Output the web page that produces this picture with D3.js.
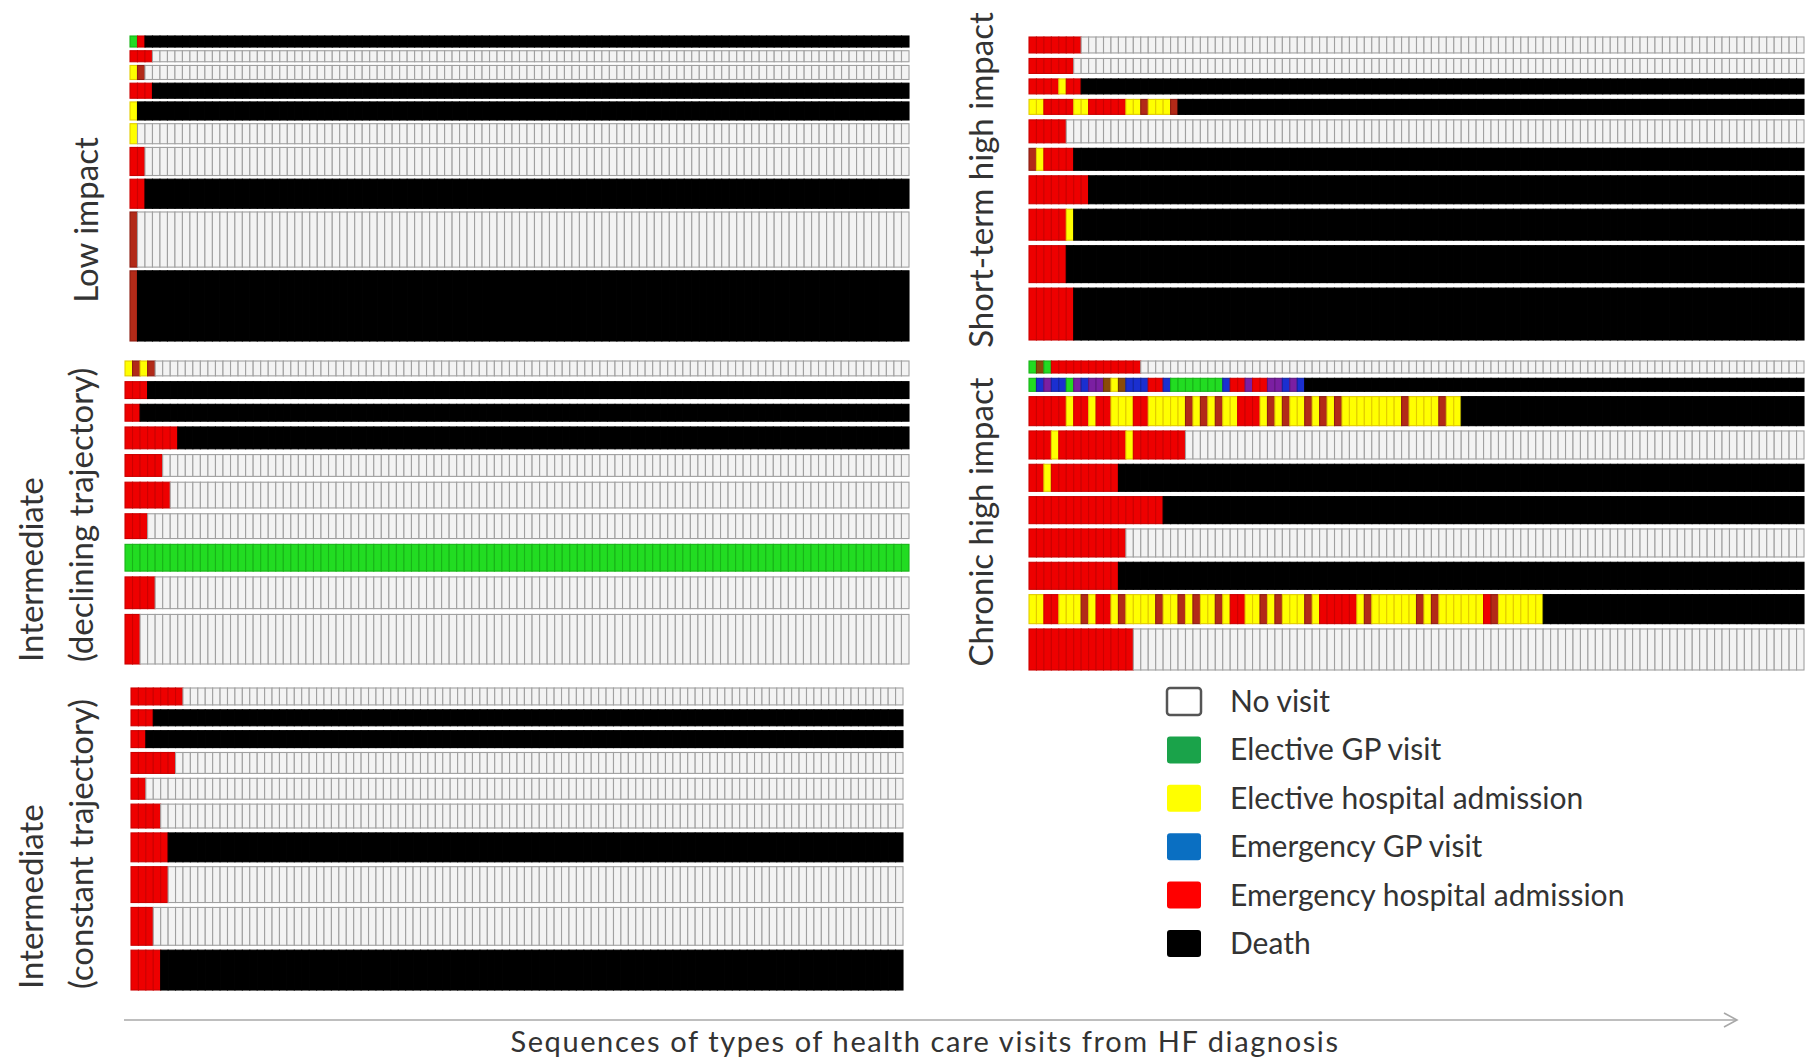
<!DOCTYPE html>
<html>
<head>
<meta charset="utf-8">
<script src="https://cdn.jsdelivr.net/npm/d3@7"></script>
<style>
  body { margin: 0; background: #fff; }
  svg { display: block; }
</style>
</head>
<body>
<svg id="chart" width="1807" height="1061"></svg>
<script>
// Number of time periods in every sequence
const nPeriods = 104;

// State codes: N no visit, G elective GP, E elective hospital, P emergency GP,
// H emergency hospital, D death, R / U / B combined-visit states
const stateFill   = { N: "#f3f3f3", G: "#22dc22", E: "#ffff00", P: "#1a2fd0", H: "#ee0000", D: "#000000", R: "#b22a18", U: "#7b1fa2", B: "#8a4b08" };
const stateStroke = { N: "#a0a0a0", G: "#18b418", E: "#e2cc00", P: "#14249f", H: "#cc0000", D: "#000000", R: "#8e1d13", U: "#5e167d", B: "#6c3a06" };

// Legend
const legendLabels = ["No visit", "Elective GP visit", "Elective hospital admission", "Emergency GP visit", "Emergency hospital admission", "Death"];
const legendColors = ["#ffffff", "#1aa34a", "#ffff00", "#0a6fc2", "#ff0000", "#000000"];

// Sequences (run-length: state + number of periods) and row frequencies per cluster
const lowImpactSeq = ["G1 H1 D102", "H3 N101", "E1 R1 N102", "H3 D101", "E1 D103", "E1 N103", "H2 N102", "H2 D102", "R1 N103", "R1 D103"];
const lowImpactFreq = [11, 11, 14, 15, 18, 20, 28, 29, 55, 70];

const shortTermSeq = ["H7 N97", "H6 N98", "H4 E1 H2 D97", "E2 H4 E2 H5 E2 R1 E3 R1 D84", "H5 N99", "R1 E1 H4 D98", "H8 D96", "H5 E1 D98", "H5 D99", "H6 D98"];
const shortTermFreq = [16, 15, 15, 15, 23, 22, 28, 31, 37, 52];

const decliningSeq = ["E1 R1 E1 R1 N100", "H3 D101", "H2 D102", "H7 D97", "H5 N99", "H6 N98", "H3 N101", "G104", "H4 N100", "H2 N102"];
const decliningFreq = [15, 17, 17, 22, 22, 26, 25, 27, 32, 50];

const chronicSeq = [
  "G1 B1 G1 H12 N89",
  "G1 P1 U1 P2 G1 U1 P1 U2 B1 E1 B1 P3 H2 P1 G7 P1 H2 U1 H2 U2 P1 U1 P1 D67",
  "H5 E1 H2 E1 H2 E3 H2 E5 R1 E1 R1 E1 R1 E2 H3 E1 R1 E1 R1 E2 R1 E1 R1 E1 R1 E8 R1 E4 R1 E2 D46",
  "H3 E1 H9 E1 H7 N83",
  "H2 E1 H9 D92",
  "H18 D86",
  "H13 N91",
  "H12 D92",
  "E2 H2 E3 R1 E1 H2 E1 R1 E4 R1 E2 R1 E1 R1 E2 R1 E1 H2 E2 R1 E1 R1 E3 R1 E1 H5 E1 R1 E6 R1 E1 R1 E6 H1 R1 E6 D35",
  "H14 N90"
];
const chronicFreq = [12, 13, 29, 28, 27, 27, 28, 27, 29, 41];

const constantSeq = ["H7 N97", "H3 D101", "H2 D102", "H6 N98", "H2 N102", "H4 N100", "H5 D99", "H5 N99", "H3 N101", "H4 D100"];
const constantFreq = [17, 16, 17, 21, 21, 24, 29, 36, 38, 40];

const xAxisTitle = "Sequences of types of health care visits from HF diagnosis";

// Expand "H3 N101" into one state per period
function expand(rle) {
  const out = [];
  rle.trim().split(/\s+/).forEach(tok => {
    const s = tok[0], n = +tok.slice(1);
    for (let i = 0; i < n; i++) out.push(s);
  });
  return out;
}

const panels = [
  { label: ["Low impact"], seq: lowImpactSeq, freq: lowImpactFreq, x0: 130, x1: 909, y0: 36, y1: 341, gap: 3.7, lx: [86], ly: 220, anchor: "middle" },
  { label: ["Short-term high impact"], seq: shortTermSeq, freq: shortTermFreq, x0: 1029, x1: 1804, y0: 37, y1: 340, gap: 5.5, lx: [981], ly: 180, anchor: "middle" },
  { label: ["Intermediate", "(declining trajectory)"], seq: decliningSeq, freq: decliningFreq, x0: 125, x1: 909, y0: 361, y1: 664, gap: 5.8, lx: [31, 81], ly: 662, anchor: "start" },
  { label: ["Chronic high impact"], seq: chronicSeq, freq: chronicFreq, x0: 1029, x1: 1804, y0: 361, y1: 670, gap: 5.3, lx: [981], ly: 522, anchor: "middle" },
  { label: ["Intermediate", "(constant trajectory)"], seq: constantSeq, freq: constantFreq, x0: 131, x1: 903, y0: 688, y1: 990, gap: 4.9, lx: [31, 81], ly: 989, anchor: "start" }
];

const svg = d3.select("#chart");
const font = "Lato, 'Open Sans', sans-serif";

panels.forEach(p => {
  const x = d3.scaleLinear().domain([0, nPeriods]).range([p.x0, p.x1]);
  const total = d3.sum(p.freq);
  const h = d3.scaleLinear().domain([0, total]).range([0, (p.y1 - p.y0) - p.gap * (p.freq.length - 1)]);
  const cum = d3.cumsum(p.freq);
  const rows = p.seq.map((s, i) => ({
    states: expand(s),
    top: p.y0 + h(cum[i] - p.freq[i]) + p.gap * i,
    height: h(p.freq[i])
  }));

  const g = svg.append("g");
  const rowG = g.selectAll("g.row").data(rows).join("g").attr("class", "row");
  rowG.selectAll("rect")
    .data(r => r.states.map((s, i) => ({ s, i, top: r.top, height: r.height })))
    .join("rect")
    .attr("x", d => x(d.i))
    .attr("y", d => d.top)
    .attr("width", d => x(d.i + 1) - x(d.i))
    .attr("height", d => d.height)
    .attr("fill", d => stateFill[d.s])
    .attr("stroke", d => stateStroke[d.s])
    .attr("stroke-width", 1.1);

  // rotated cluster label
  p.label.forEach((t, k) => {
    svg.append("text")
      .attr("transform", `translate(${p.lx[k]},${p.ly}) rotate(-90)`)
      .attr("dy", "0.35em")
      .attr("text-anchor", p.anchor)
      .attr("font-family", font)
      .attr("font-size", 33)
      .attr("fill", "#333")
      .text(t);
  });
});

// Legend
const lg = svg.append("g");
const legendY = d3.scaleLinear().domain([0, legendLabels.length - 1]).range([701.5, 943.5]);
legendLabels.forEach((lab, i) => {
  lg.append("rect")
    .attr("x", 1167).attr("y", legendY(i) - 13.5)
    .attr("width", 34).attr("height", 27)
    .attr("rx", 3)
    .attr("fill", legendColors[i])
    .attr("stroke", i === 0 ? "#555" : "none")
    .attr("stroke-width", 2.5);
  lg.append("text")
    .attr("x", 1230).attr("y", legendY(i))
    .attr("dy", "0.35em")
    .attr("font-family", font)
    .attr("font-size", 30)
    .attr("fill", "#333")
    .text(lab);
});

// Time axis arrow
const axisY = 1020;
svg.append("line")
  .attr("x1", 124).attr("x2", 1736).attr("y1", axisY).attr("y2", axisY)
  .attr("stroke", "#a8a8a8").attr("stroke-width", 1.6);
svg.append("path")
  .attr("d", `M1724,${axisY - 7} L1737,${axisY} L1724,${axisY + 7}`)
  .attr("fill", "none").attr("stroke", "#a8a8a8").attr("stroke-width", 1.6);

svg.append("text")
  .attr("x", 925).attr("y", 1052)
  .attr("text-anchor", "middle")
  .attr("font-family", font)
  .attr("font-size", 29)
  .attr("letter-spacing", 1.6)
  .attr("fill", "#333")
  .text(xAxisTitle);
</script>
</body>
</html>
